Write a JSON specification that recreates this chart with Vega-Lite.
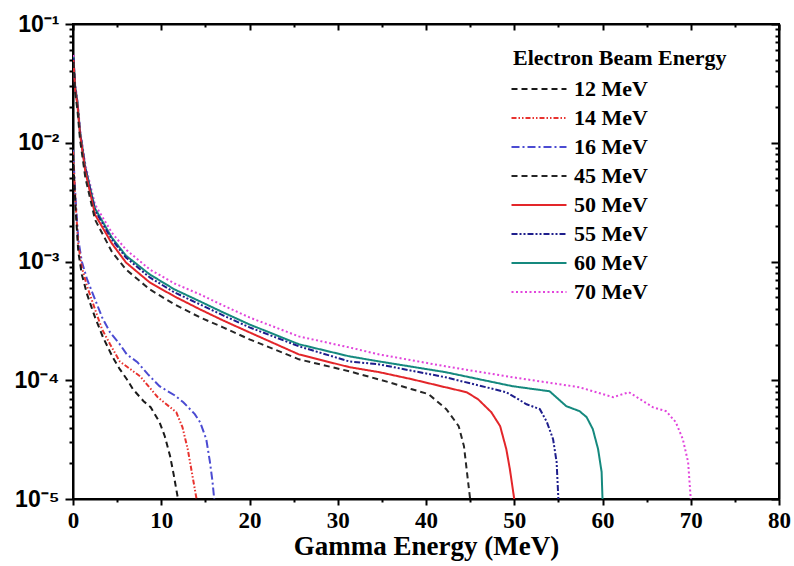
{
  "$schema": "https://vega.github.io/schema/vega-lite/v6.json",
  "width": 706,
  "height": 475,
  "autosize": {"type": "none"},
  "padding": {"left": 73, "top": 24, "right": 15, "bottom": 67},
  "background": "white",
  "config": {"view": {"stroke": "black", "strokeWidth": 2}},
  "data": {"values": [
    {"beam": "70 MeV", "x": 0.05, "y": 0.0549},
    {"beam": "70 MeV", "x": 0.25, "y": 0.0307},
    {"beam": "70 MeV", "x": 0.5, "y": 0.0230},
    {"beam": "70 MeV", "x": 0.8, "y": 0.01286},
    {"beam": "70 MeV", "x": 1.4, "y": 0.00653},
    {"beam": "70 MeV", "x": 2.5, "y": 0.00301},
    {"beam": "70 MeV", "x": 4.4, "y": 0.00175},
    {"beam": "70 MeV", "x": 6, "y": 0.00126},
    {"beam": "70 MeV", "x": 8.7, "y": 0.000857},
    {"beam": "70 MeV", "x": 11.5, "y": 0.000653},
    {"beam": "70 MeV", "x": 14.4, "y": 0.000528},
    {"beam": "70 MeV", "x": 17, "y": 0.000427},
    {"beam": "70 MeV", "x": 20, "y": 0.000338},
    {"beam": "70 MeV", "x": 25.6, "y": 0.000234},
    {"beam": "70 MeV", "x": 31.3, "y": 0.000189},
    {"beam": "70 MeV", "x": 34.7, "y": 0.000165},
    {"beam": "70 MeV", "x": 42.2, "y": 0.000131},
    {"beam": "70 MeV", "x": 49.8, "y": 0.000106},
    {"beam": "70 MeV", "x": 57.4, "y": 0.0000873},
    {"beam": "70 MeV", "x": 61.2, "y": 0.0000720},
    {"beam": "70 MeV", "x": 63, "y": 0.0000793},
    {"beam": "70 MeV", "x": 65.7, "y": 0.0000593},
    {"beam": "70 MeV", "x": 67.2, "y": 0.0000549},
    {"beam": "70 MeV", "x": 68.3, "y": 0.0000444},
    {"beam": "70 MeV", "x": 69.1, "y": 0.0000319},
    {"beam": "70 MeV", "x": 69.7, "y": 0.0000205},
    {"beam": "70 MeV", "x": 70, "y": 0.00001},

    {"beam": "60 MeV", "x": 0.05, "y": 0.0528},
    {"beam": "60 MeV", "x": 0.25, "y": 0.02954},
    {"beam": "60 MeV", "x": 0.5, "y": 0.0221},
    {"beam": "60 MeV", "x": 0.8, "y": 0.01237},
    {"beam": "60 MeV", "x": 1.4, "y": 0.00617},
    {"beam": "60 MeV", "x": 2.5, "y": 0.00279},
    {"beam": "60 MeV", "x": 4.4, "y": 0.00159},
    {"beam": "60 MeV", "x": 6, "y": 0.00112},
    {"beam": "60 MeV", "x": 8.7, "y": 0.000778},
    {"beam": "60 MeV", "x": 11.5, "y": 0.000582},
    {"beam": "60 MeV", "x": 14.4, "y": 0.000461},
    {"beam": "60 MeV", "x": 17, "y": 0.000373},
    {"beam": "60 MeV", "x": 20, "y": 0.000295},
    {"beam": "60 MeV", "x": 25.6, "y": 0.000201},
    {"beam": "60 MeV", "x": 31.3, "y": 0.000159},
    {"beam": "60 MeV", "x": 34.7, "y": 0.000144},
    {"beam": "60 MeV", "x": 42.2, "y": 0.000117},
    {"beam": "60 MeV", "x": 49.8, "y": 0.0000891},
    {"beam": "60 MeV", "x": 54, "y": 0.0000808},
    {"beam": "60 MeV", "x": 55.9, "y": 0.0000605},
    {"beam": "60 MeV", "x": 57.4, "y": 0.0000549},
    {"beam": "60 MeV", "x": 58.2, "y": 0.0000489},
    {"beam": "60 MeV", "x": 58.9, "y": 0.0000388},
    {"beam": "60 MeV", "x": 59.5, "y": 0.0000263},
    {"beam": "60 MeV", "x": 59.9, "y": 0.0000169},
    {"beam": "60 MeV", "x": 60, "y": 0.00001},

    {"beam": "55 MeV", "x": 0.05, "y": 0.0518},
    {"beam": "55 MeV", "x": 0.25, "y": 0.02898},
    {"beam": "55 MeV", "x": 0.5, "y": 0.02168},
    {"beam": "55 MeV", "x": 0.8, "y": 0.01213},
    {"beam": "55 MeV", "x": 1.4, "y": 0.00605},
    {"beam": "55 MeV", "x": 2.5, "y": 0.00268},
    {"beam": "55 MeV", "x": 4.4, "y": 0.00153},
    {"beam": "55 MeV", "x": 6, "y": 0.00108},
    {"beam": "55 MeV", "x": 8.7, "y": 0.000734},
    {"beam": "55 MeV", "x": 11.5, "y": 0.000549},
    {"beam": "55 MeV", "x": 14.4, "y": 0.000435},
    {"beam": "55 MeV", "x": 17, "y": 0.000352},
    {"beam": "55 MeV", "x": 20, "y": 0.000279},
    {"beam": "55 MeV", "x": 25.6, "y": 0.000193},
    {"beam": "55 MeV", "x": 31.3, "y": 0.000144},
    {"beam": "55 MeV", "x": 34.7, "y": 0.000136},
    {"beam": "55 MeV", "x": 42.2, "y": 0.000106},
    {"beam": "55 MeV", "x": 49.1, "y": 0.0000793},
    {"beam": "55 MeV", "x": 51.4, "y": 0.0000628},
    {"beam": "55 MeV", "x": 52.9, "y": 0.0000571},
    {"beam": "55 MeV", "x": 53.7, "y": 0.0000444},
    {"beam": "55 MeV", "x": 54.4, "y": 0.0000319},
    {"beam": "55 MeV", "x": 54.8, "y": 0.0000205},
    {"beam": "55 MeV", "x": 55, "y": 0.00001},

    {"beam": "50 MeV", "x": 0.05, "y": 0.0498},
    {"beam": "50 MeV", "x": 0.25, "y": 0.02788},
    {"beam": "50 MeV", "x": 0.5, "y": 0.02086},
    {"beam": "50 MeV", "x": 0.8, "y": 0.01167},
    {"beam": "50 MeV", "x": 1.4, "y": 0.00571},
    {"beam": "50 MeV", "x": 2.5, "y": 0.00248},
    {"beam": "50 MeV", "x": 4.4, "y": 0.00142},
    {"beam": "50 MeV", "x": 6, "y": 0.000981},
    {"beam": "50 MeV", "x": 8.7, "y": 0.000666},
    {"beam": "50 MeV", "x": 11.5, "y": 0.000508},
    {"beam": "50 MeV", "x": 14.4, "y": 0.000395},
    {"beam": "50 MeV", "x": 17, "y": 0.000319},
    {"beam": "50 MeV", "x": 20, "y": 0.000253},
    {"beam": "50 MeV", "x": 25.6, "y": 0.000165},
    {"beam": "50 MeV", "x": 31.3, "y": 0.000129},
    {"beam": "50 MeV", "x": 34.7, "y": 0.000117},
    {"beam": "50 MeV", "x": 38.4, "y": 0.000102},
    {"beam": "50 MeV", "x": 42.2, "y": 0.0000873},
    {"beam": "50 MeV", "x": 44.6, "y": 0.0000793},
    {"beam": "50 MeV", "x": 45.9, "y": 0.0000692},
    {"beam": "50 MeV", "x": 47.4, "y": 0.0000538},
    {"beam": "50 MeV", "x": 48.4, "y": 0.0000411},
    {"beam": "50 MeV", "x": 49.1, "y": 0.0000263},
    {"beam": "50 MeV", "x": 49.5, "y": 0.0000179},
    {"beam": "50 MeV", "x": 50, "y": 0.00001},

    {"beam": "45 MeV", "x": 0.05, "y": 0.0479},
    {"beam": "45 MeV", "x": 0.25, "y": 0.02631},
    {"beam": "45 MeV", "x": 0.5, "y": 0.01894},
    {"beam": "45 MeV", "x": 0.8, "y": 0.01059},
    {"beam": "45 MeV", "x": 1.4, "y": 0.00508},
    {"beam": "45 MeV", "x": 2.5, "y": 0.00225},
    {"beam": "45 MeV", "x": 4.4, "y": 0.00121},
    {"beam": "45 MeV", "x": 6, "y": 0.000857},
    {"beam": "45 MeV", "x": 8.7, "y": 0.000582},
    {"beam": "45 MeV", "x": 11.5, "y": 0.000435},
    {"beam": "45 MeV", "x": 14.4, "y": 0.000338},
    {"beam": "45 MeV", "x": 17, "y": 0.000279},
    {"beam": "45 MeV", "x": 20, "y": 0.000221},
    {"beam": "45 MeV", "x": 25.6, "y": 0.000150},
    {"beam": "45 MeV", "x": 31.3, "y": 0.000119},
    {"beam": "45 MeV", "x": 35.8, "y": 0.0000962},
    {"beam": "45 MeV", "x": 38.4, "y": 0.0000840},
    {"beam": "45 MeV", "x": 40.3, "y": 0.0000763},
    {"beam": "45 MeV", "x": 42.3, "y": 0.0000571},
    {"beam": "45 MeV", "x": 43.7, "y": 0.0000411},
    {"beam": "45 MeV", "x": 44.3, "y": 0.0000279},
    {"beam": "45 MeV", "x": 44.6, "y": 0.0000179},
    {"beam": "45 MeV", "x": 45, "y": 0.00001},

    {"beam": "16 MeV", "x": 0, "y": 0.00873},
    {"beam": "16 MeV", "x": 0.3, "y": 0.00332},
    {"beam": "16 MeV", "x": 0.6, "y": 0.00153},
    {"beam": "16 MeV", "x": 1.0, "y": 0.00100},
    {"beam": "16 MeV", "x": 1.6, "y": 0.000706},
    {"beam": "16 MeV", "x": 2.5, "y": 0.000479},
    {"beam": "16 MeV", "x": 3.3, "y": 0.000338},
    {"beam": "16 MeV", "x": 4.2, "y": 0.000253},
    {"beam": "16 MeV", "x": 5.3, "y": 0.000201},
    {"beam": "16 MeV", "x": 6.1, "y": 0.000165},
    {"beam": "16 MeV", "x": 7.3, "y": 0.000142},
    {"beam": "16 MeV", "x": 8.5, "y": 0.000112},
    {"beam": "16 MeV", "x": 9.8, "y": 0.0000891},
    {"beam": "16 MeV", "x": 11.5, "y": 0.0000748},
    {"beam": "16 MeV", "x": 12.5, "y": 0.0000653},
    {"beam": "16 MeV", "x": 13.8, "y": 0.0000518},
    {"beam": "16 MeV", "x": 14.4, "y": 0.0000444},
    {"beam": "16 MeV", "x": 15.1, "y": 0.0000319},
    {"beam": "16 MeV", "x": 15.5, "y": 0.0000209},
    {"beam": "16 MeV", "x": 15.8, "y": 0.0000142},
    {"beam": "16 MeV", "x": 16, "y": 0.00001},

    {"beam": "14 MeV", "x": 0, "y": 0.00840},
    {"beam": "14 MeV", "x": 0.3, "y": 0.00301},
    {"beam": "14 MeV", "x": 0.6, "y": 0.00139},
    {"beam": "14 MeV", "x": 1.0, "y": 0.000891},
    {"beam": "14 MeV", "x": 1.6, "y": 0.000617},
    {"beam": "14 MeV", "x": 2.5, "y": 0.000395},
    {"beam": "14 MeV", "x": 3.3, "y": 0.000268},
    {"beam": "14 MeV", "x": 4.2, "y": 0.000201},
    {"beam": "14 MeV", "x": 5.3, "y": 0.000144},
    {"beam": "14 MeV", "x": 7.6, "y": 0.000108},
    {"beam": "14 MeV", "x": 9.6, "y": 0.0000720},
    {"beam": "14 MeV", "x": 11.7, "y": 0.0000538},
    {"beam": "14 MeV", "x": 12.4, "y": 0.0000403},
    {"beam": "14 MeV", "x": 13.0, "y": 0.0000263},
    {"beam": "14 MeV", "x": 13.4, "y": 0.0000179},
    {"beam": "14 MeV", "x": 13.7, "y": 0.0000134},
    {"beam": "14 MeV", "x": 14, "y": 0.00001},

    {"beam": "12 MeV", "x": 0, "y": 0.00793},
    {"beam": "12 MeV", "x": 0.3, "y": 0.00273},
    {"beam": "12 MeV", "x": 0.6, "y": 0.00121},
    {"beam": "12 MeV", "x": 1.0, "y": 0.000778},
    {"beam": "12 MeV", "x": 1.6, "y": 0.000528},
    {"beam": "12 MeV", "x": 2.5, "y": 0.000338},
    {"beam": "12 MeV", "x": 3.4, "y": 0.000230},
    {"beam": "12 MeV", "x": 4.5, "y": 0.000156},
    {"beam": "12 MeV", "x": 5.3, "y": 0.000124},
    {"beam": "12 MeV", "x": 6.1, "y": 0.000102},
    {"beam": "12 MeV", "x": 6.8, "y": 0.0000840},
    {"beam": "12 MeV", "x": 8.0, "y": 0.0000666},
    {"beam": "12 MeV", "x": 8.8, "y": 0.0000593},
    {"beam": "12 MeV", "x": 9.8, "y": 0.0000444},
    {"beam": "12 MeV", "x": 10.4, "y": 0.0000338},
    {"beam": "12 MeV", "x": 11.0, "y": 0.0000230},
    {"beam": "12 MeV", "x": 11.4, "y": 0.0000162},
    {"beam": "12 MeV", "x": 11.7, "y": 0.0000121},
    {"beam": "12 MeV", "x": 11.9, "y": 0.00001}
  ]},
  "layer": [
    {
      "mark": {"type": "line", "strokeWidth": 2, "clip": true},
      "encoding": {
        "x": {
          "field": "x", "type": "quantitative",
          "scale": {"domain": [0, 80], "nice": false, "zero": false},
          "axis": {
            "orient": "bottom",
            "values": [0, 5, 10, 15, 20, 25, 30, 35, 40, 45, 50, 55, 60, 65, 70, 75, 80],
            "labelExpr": "datum.value % 10 === 0 ? datum.label : ''",
            "tickSize": {"condition": {"test": "datum.value % 10 === 0", "value": 6}, "value": 3},
            "tickColor": "black", "tickWidth": 2,
            "domainColor": "black", "domainWidth": 2,
            "labelFont": "Liberation Serif", "labelFontSize": 23, "labelFontWeight": "bold", "labelColor": "black",
            "labelPadding": 4, "labelFlush": false, "labelOverlap": false,
            "grid": false,
            "title": "Gamma Energy (MeV)",
            "titleFont": "Liberation Serif", "titleFontSize": 27, "titleFontWeight": "bold", "titleColor": "black",
            "titlePadding": 1
          }
        },
        "y": {
          "field": "y", "type": "quantitative",
          "scale": {"type": "log", "domain": [0.00001, 0.1], "nice": false},
          "axis": {
            "orient": "left",
            "values": [0.00001, 0.00002, 0.00003, 0.00004, 0.00005, 0.00006, 0.00007, 0.00008, 0.00009,
                       0.0001, 0.0002, 0.0003, 0.0004, 0.0005, 0.0006, 0.0007, 0.0008, 0.0009,
                       0.001, 0.002, 0.003, 0.004, 0.005, 0.006, 0.007, 0.008, 0.009,
                       0.01, 0.02, 0.03, 0.04, 0.05, 0.06, 0.07, 0.08, 0.09, 0.1],
            "labelExpr": "abs(datum.value/0.1 - 1) < 0.001 ? '10⁻¹' : abs(datum.value/0.01 - 1) < 0.001 ? '10⁻²' : abs(datum.value/0.001 - 1) < 0.001 ? '10⁻³' : abs(datum.value/0.0001 - 1) < 0.001 ? '10⁻⁴' : abs(datum.value/0.00001 - 1) < 0.001 ? '10⁻⁵' : ''",
            "tickSize": {"condition": {"test": "abs(log(datum.value)/LN10 - round(log(datum.value)/LN10)) < 0.001", "value": 8}, "value": 4},
            "tickColor": "black", "tickWidth": 2,
            "domainColor": "black", "domainWidth": 2,
            "labelFont": "Liberation Sans", "labelFontSize": 23, "labelFontWeight": "bold", "labelColor": "black",
            "labelPadding": 6, "labelFlush": false, "labelOverlap": false,
            "grid": false,
            "title": null
          }
        },
        "color": {
          "field": "beam", "type": "nominal",
          "scale": {
            "domain": ["12 MeV", "14 MeV", "16 MeV", "45 MeV", "50 MeV", "55 MeV", "60 MeV", "70 MeV"],
            "range": ["#1a1a1a", "#e8332f", "#4b4bd2", "#262626", "#e3262a", "#1e1e8c", "#15897e", "#e245dc"]
          },
          "legend": {
            "orient": "none", "legendX": 440, "legendY": 24, "padding": 0,
            "title": "Electron Beam Energy", "titleLimit": 400,
            "titleFont": "Liberation Serif", "titleFontSize": 22, "titleFontWeight": "bold", "titleColor": "black",
            "titlePadding": 7,
            "labelFont": "Liberation Serif", "labelFontSize": 22, "labelFontWeight": "bold", "labelColor": "black",
            "symbolType": "M-2.5,0H2.5", "symbolSize": 484, "symbolStrokeWidth": 2,
            "symbolOffset": 14, "labelOffset": 23, "rowPadding": 6
          }
        },
        "strokeDash": {
          "field": "beam", "type": "nominal",
          "scale": {
            "domain": ["12 MeV", "14 MeV", "16 MeV", "45 MeV", "50 MeV", "55 MeV", "60 MeV", "70 MeV"],
            "range": [[6, 4], [5, 2, 1.5, 2, 1.5, 2], [8, 3, 2, 3], [6, 4], [1, 0], [6, 2, 2, 2, 2, 2], [1, 0], [2, 2.5]]
          },
          "legend": {
            "orient": "none", "legendX": 440, "legendY": 24, "padding": 0,
            "title": "Electron Beam Energy", "titleLimit": 400,
            "titleFont": "Liberation Serif", "titleFontSize": 22, "titleFontWeight": "bold", "titleColor": "black",
            "titlePadding": 7,
            "labelFont": "Liberation Serif", "labelFontSize": 22, "labelFontWeight": "bold", "labelColor": "black",
            "symbolType": "M-2.5,0H2.5", "symbolSize": 484, "symbolStrokeWidth": 2,
            "symbolOffset": 14, "labelOffset": 23, "rowPadding": 6
          }
        }
      }
    },
    {
      "mark": {"type": "point", "opacity": 0},
      "encoding": {
        "x": {
          "field": "x", "type": "quantitative",
          "axis": {
            "orient": "top",
            "values": [0, 5, 10, 15, 20, 25, 30, 35, 40, 45, 50, 55, 60, 65, 70, 75, 80],
            "labels": false,
            "tickSize": {"condition": {"test": "datum.value % 10 === 0", "value": -6}, "value": -3},
            "tickColor": "black", "tickWidth": 2,
            "domainColor": "black", "domainWidth": 2,
            "grid": false, "title": null
          }
        },
        "y": {
          "field": "y", "type": "quantitative",
          "axis": {
            "orient": "right",
            "values": [0.00001, 0.00002, 0.00003, 0.00004, 0.00005, 0.00006, 0.00007, 0.00008, 0.00009,
                       0.0001, 0.0002, 0.0003, 0.0004, 0.0005, 0.0006, 0.0007, 0.0008, 0.0009,
                       0.001, 0.002, 0.003, 0.004, 0.005, 0.006, 0.007, 0.008, 0.009,
                       0.01, 0.02, 0.03, 0.04, 0.05, 0.06, 0.07, 0.08, 0.09, 0.1],
            "labels": false,
            "tickSize": {"condition": {"test": "abs(log(datum.value)/LN10 - round(log(datum.value)/LN10)) < 0.001", "value": -8}, "value": -4},
            "tickColor": "black", "tickWidth": 2,
            "domainColor": "black", "domainWidth": 2,
            "grid": false, "title": null
          }
        }
      }
    }
  ],
  "resolve": {"scale": {"x": "shared", "y": "shared"}, "axis": {"x": "independent", "y": "independent"}}
}
